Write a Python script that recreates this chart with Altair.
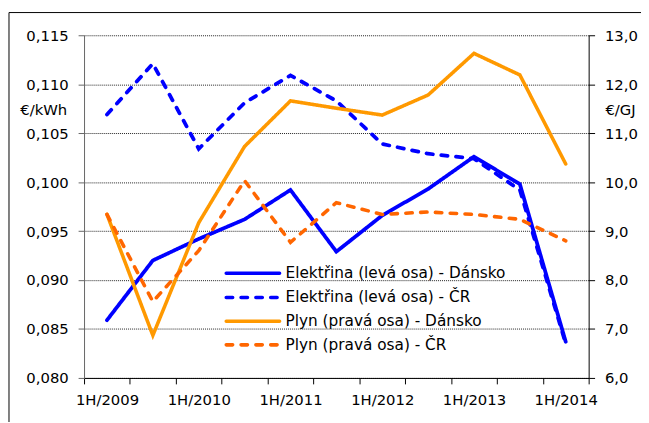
import altair as alt
import pandas as pd

# ---- data ----
periods = ["1H/2009", "2H/2009", "1H/2010", "2H/2010", "1H/2011", "2H/2011",
           "1H/2012", "2H/2012", "1H/2013", "2H/2013", "1H/2014"]
el_dk = [0.0859, 0.0920, 0.0942, 0.0962, 0.0992, 0.0929, 0.0966, 0.0993, 0.1026, 0.0998, 0.0837]
el_cz = [0.1069, 0.1121, 0.1034, 0.1081, 0.1109, 0.1083, 0.1039, 0.1029, 0.1024, 0.0992, 0.0835]
gas_dk = [9.34, 6.87, 9.17, 10.73, 11.66, 11.51, 11.37, 11.78, 12.63, 12.19, 10.37]
gas_cz = [9.34, 7.56, 8.60, 10.03, 8.77, 9.58, 9.34, 9.39, 9.34, 9.24, 8.80]

series = ["Elektřina (levá osa) - Dánsko", "Elektřina (levá osa) - ČR",
          "Plyn (pravá osa) - Dánsko", "Plyn (pravá osa) - ČR"]
colors = ["#0000FF", "#0000FF", "#FF9900", "#FF6600"]
dashes = [[1, 0], [6.5, 8.5], [1, 0], [6.5, 8.5]]

left_ticks = [0.080, 0.085, 0.090, 0.095, 0.100, 0.105, 0.110, 0.115]
right_ticks = [6, 7, 8, 9, 10, 11, 12, 13]
units = ["€/kWh", "€/GJ"]
legend_rows = [241, 265.5, 289.5, 313.5]

FONT = "DejaVu Sans"
n = len(periods)
idx = list(range(n))

elec = pd.DataFrame({
    "idx": idx * 2,
    "period": periods * 2,
    "value": el_dk + el_cz,
    "series": [series[0]] * n + [series[1]] * n,
})
gas = pd.DataFrame({
    "idx": idx * 2,
    "period": periods * 2,
    "value": gas_dk + gas_cz,
    "series": [series[2]] * n + [series[3]] * n,
})
leg = pd.DataFrame({"series": series, "ly": legend_rows})

band_edges = [i - 0.5 for i in range(n + 1)]
label_pos = [i for i in idx if i % 2 == 0]
label_js = "[" + ",".join("'%s'" % p for p in periods) + "]"

x_axis = alt.Axis(
    values=band_edges + label_pos,
    title=None, grid=False,
    domainColor="black", tickColor="black", tickSize=6,
    tickOpacity={"condition": {"test": "datum.value % 1 !== 0", "value": 1}, "value": 0},
    labelExpr="datum.value % 2 === 0 ? " + label_js + "[datum.value] : ''",
    labelOverlap=False, labelFlush=False, labelAngle=0,
    labelFont=FONT, labelFontSize=15, labelColor="black", labelPadding=9,
)
x_enc = alt.X("idx:Q", scale=alt.Scale(domain=[-0.5, n - 0.5], nice=False, zero=False), axis=x_axis)

color_enc = alt.Color("series:N", scale=alt.Scale(domain=series, range=colors), legend=None)
dash_enc = alt.StrokeDash("series:N", scale=alt.Scale(domain=series, range=dashes), legend=None)

elec_lines = alt.Chart(elec).mark_line(strokeWidth=3.8, strokeCap="round").encode(
    x=x_enc,
    y=alt.Y("value:Q",
            scale=alt.Scale(domain=[0.080, 0.115], nice=False, zero=False),
            axis=alt.Axis(values=left_ticks, title=None, orient="left",
                          labelExpr="replace(format(datum.value, '.3f'), '.', ',')",
                          grid=True, gridColor="#222222", gridDash=[1, 1], gridWidth=1,
                          domainColor="#666666", tickColor="#666666", tickSize=6,
                          labelPadding=10, labelFont=FONT, labelFontSize=15,
                          labelColor="black")),
    color=color_enc,
    strokeDash=dash_enc,
)

gas_lines = alt.Chart(gas).mark_line(strokeWidth=3.6, strokeCap="round").encode(
    x=x_enc,
    y=alt.Y("value:Q",
            scale=alt.Scale(domain=[6, 13], nice=False, zero=False),
            axis=alt.Axis(values=right_ticks, title=None, orient="right",
                          labelExpr="replace(format(datum.value, '.1f'), '.', ',')",
                          grid=False, domainColor="black", tickColor="black", tickSize=6,
                          labelPadding=10, labelFont=FONT, labelFontSize=15,
                          labelColor="black")),
    color=color_enc,
    strokeDash=dash_enc,
)

legend_lines = alt.Chart(leg).mark_rule(strokeWidth=3.6, strokeCap="round").encode(
    x=alt.value(144), x2=alt.value(198),
    y=alt.Y("ly:Q", scale=None, axis=None),
    color=color_enc,
    strokeDash=dash_enc,
)
legend_text = alt.Chart(leg).mark_text(
    align="left", baseline="middle", font=FONT, fontSize=15.5, color="black"
).encode(
    x=alt.value(204),
    y=alt.Y("ly:Q", scale=None, axis=None),
    text="series:N",
)

one = pd.DataFrame({"u_left": [units[0]], "u_right": [units[1]]})
unit_left = alt.Chart(one).mark_text(
    align="right", baseline="middle", font=FONT, fontSize=15, color="black"
).encode(x=alt.value(-17), y=alt.value(75.5), text="u_left:N")
unit_right = alt.Chart(one).mark_text(
    align="left", baseline="middle", font=FONT, fontSize=15, color="black"
).encode(x=alt.value(528), y=alt.value(76), text="u_right:N")

frame = alt.Chart(pd.DataFrame({"f": [0]})).mark_rect(
    filled=False, stroke="black", strokeWidth=1
).encode(x=alt.value(-76), x2=alt.value(800), y=alt.value(-23), y2=alt.value(700))

chart = alt.layer(
    frame, elec_lines, gas_lines, legend_lines, legend_text, unit_left, unit_right
).resolve_scale(
    y="independent"
).properties(
    width=511, height=347,
    autosize=alt.AutoSizeParams(type="none"),
    padding={"left": 77, "top": 25, "right": 53, "bottom": 42},
).configure_view(stroke=None)

chart.save("out.html", embed_options={"renderer": "svg", "actions": False})
